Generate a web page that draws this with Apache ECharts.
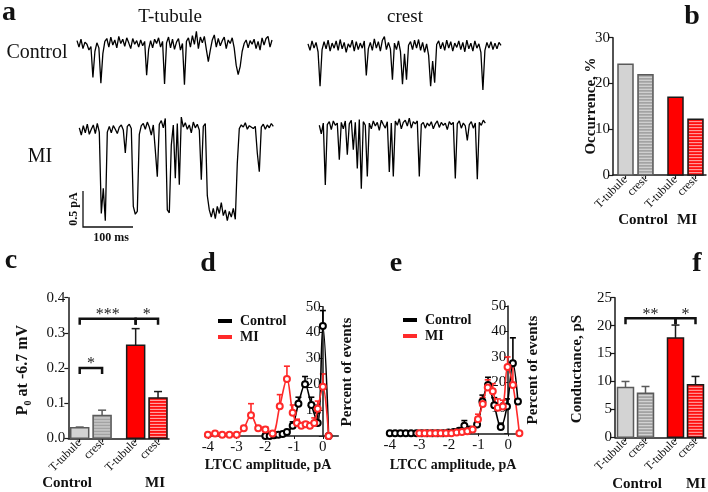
<!DOCTYPE html>
<html><head><meta charset="utf-8">
<script src="https://cdn.jsdelivr.net/npm/echarts@6/dist/echarts.min.js"></script>
<style>html,body{margin:0;padding:0;background:#fff}#c{width:708px;height:492px}</style>
</head><body><div id="c"></div>
<script>
// ---------------- DATA ----------------
// single-channel traces (pA, one value per ~4 ms sample)
const traceCtrlTT = [0.06,-0.03,0.08,-0.05,0.04,0.01,-0.07,-0.02,-0.45,-0.09,0.03,-0.04,-0.53,-0.12,0.05,0.09,-0.03,0.11,0.00,0.07,-0.04,0.12,0.02,0.08,-0.02,0.10,0.03,-0.05,0.09,0.01,0.06,-0.03,0.07,-0.01,0.05,-0.42,-0.06,0.06,-0.04,0.08,0.02,0.10,-0.03,0.05,-0.54,0.03,0.11,-0.04,0.08,-0.06,0.04,0.09,-0.07,0.02,-0.55,0.05,0.10,-0.03,0.13,0.01,0.19,-0.05,0.11,0.03,0.12,-0.06,-0.23,-0.07,0.07,0.14,-0.03,0.09,-0.01,0.06,0.11,-0.05,0.07,0.02,0.10,-0.04,-0.28,-0.41,-0.30,-0.09,0.02,0.07,-0.04,0.06,0.01,0.08,-0.05,0.05,-0.07,0.10,0.00,0.09,0.12,-0.03,0.07];
const traceCtrlCrest = [0.04,-0.05,0.08,-0.02,0.06,-0.07,-0.55,-0.04,0.07,-0.03,0.09,-0.06,0.05,-0.02,0.08,-0.05,0.10,-0.03,0.06,-0.08,0.04,-0.01,0.09,-0.06,0.07,-0.04,0.05,-0.02,0.08,-0.40,-0.03,0.06,-0.05,0.11,-0.02,0.07,-0.06,0.09,0.14,-0.04,0.06,-0.03,-0.46,0.05,-0.04,0.08,-0.07,-0.52,-0.10,-0.46,0.02,0.07,-0.04,0.09,-0.02,0.10,-0.05,0.06,-0.08,0.04,-0.12,-0.55,-0.20,-0.50,0.03,0.08,-0.03,0.06,-0.05,0.09,-0.02,0.07,-0.06,0.05,-0.01,0.08,-0.04,0.06,-0.07,0.09,-0.03,0.05,-0.06,0.08,-0.02,0.04,-0.08,-0.60,-0.05,0.06,-0.02,0.07,-0.04,0.05,-0.03,0.06,0.02];
const traceMITT = [0.04,-0.06,0.07,-0.03,0.09,-0.05,0.02,0.08,-0.04,0.10,-0.02,-1.15,-0.80,-1.25,-0.02,0.06,-0.03,0.07,0.02,-0.04,0.05,0.08,0.01,-0.31,0.06,0.09,0.03,-1.05,-1.16,-1.12,-0.05,0.07,0.10,0.02,0.12,0.05,-0.06,0.08,-0.27,-0.64,0.09,0.14,0.04,0.17,-1.10,-1.14,-0.20,0.08,-0.66,0.10,-0.75,0.19,0.05,0.11,0.02,0.08,-0.03,0.12,0.04,0.09,0.01,-0.68,0.06,0.10,-0.90,-1.10,-1.20,-1.08,-1.22,-1.05,-1.15,-1.00,-1.18,-1.10,-1.25,-1.12,-1.20,-1.08,-1.23,-0.45,0.03,0.08,0.05,0.11,0.02,0.07,0.09,0.03,0.06,-0.31,-0.57,0.05,0.09,0.02,0.08,0.04,0.10,0.06];
const traceMICrest = [0.02,-0.10,0.05,-0.81,0.03,0.07,-0.04,0.08,0.02,0.05,-0.46,0.06,-0.03,0.08,-0.39,0.04,0.09,-0.32,0.06,-0.58,0.10,-0.86,0.07,0.02,-0.69,0.05,-0.03,0.08,0.01,0.06,-0.05,0.09,0.03,-0.02,0.07,-0.63,0.05,-0.69,0.08,0.02,0.11,-0.03,0.06,0.09,0.01,0.12,-0.02,0.07,0.04,0.08,-0.69,0.03,0.06,-0.02,0.05,0.01,0.07,-0.03,0.04,0.08,-0.01,0.06,0.02,0.05,-0.04,0.07,0.03,0.06,-0.72,0.04,0.08,-0.02,0.05,0.01,-0.19,0.03,0.07,-0.02,0.05,-0.73,0.06,0.02,0.09,0.05];

// bar panels
const barCategories = ['T-tubule', 'crest', 'T-tubule', 'crest'];
const barGroups = ['Control', 'MI'];
const occurrence = [24.2, 21.9, 17.0, 12.2];
const openProb = [0.030, 0.065, 0.265, 0.115];
const openProbErr = [0.002, 0.015, 0.047, 0.018];
const conductance = [8.9, 7.9, 17.8, 9.4];
const conductanceErr = [1.1, 1.2, 2.3, 1.5];
// significance: [fromBar, toBar, level, label]
const sigOpenProb = [[0, 1, 0.20, '*'], [0, 2, 0.34, '***'], [2, 3, 0.34, '*']];
const sigConductance = [[0, 2, 21.3, '**'], [2, 3, 21.3, '*']];

// amplitude histograms (pA, % of events, SEM)
const dCtrlX = [-2.0,-1.85,-1.7,-1.55,-1.4,-1.25,-1.05,-0.85,-0.62,-0.4,-0.18,0.0,0.2];
const dCtrlY = [0,0,0.3,0.5,0.8,1.5,4.0,12.5,20.0,12.0,5.0,42.5,0];
const dCtrlE = [0,0,0,0,0,0,1.5,2.5,3.0,3.0,4.0,6.0,0];
const dMIX = [-4.0,-3.75,-3.5,-3.25,-3.0,-2.75,-2.5,-2.25,-2.0,-1.75,-1.5,-1.25,-1.05,-0.9,-0.75,-0.6,-0.45,-0.3,-0.18,0.0,0.2];
const dMIY = [0.5,1.0,0.5,0.5,0.5,3.0,8.0,3.0,2.5,1.0,11.5,22.0,9.0,5.0,4.0,4.5,4.0,5.0,10.5,19.0,0];
const dMIE = [0,0.3,0,0,0,1.0,4.5,1.0,1.0,0.5,4.5,5.0,3.0,1.5,1.0,1.0,1.0,2.0,3.0,5.0,0];
const eCtrlX = [-4.0,-3.82,-3.64,-3.46,-3.28,-3.1,-2.92,-2.74,-2.56,-2.38,-2.2,-2.02,-1.84,-1.66,-1.48,-1.3,-1.05,-0.87,-0.68,-0.47,-0.25,-0.04,0.16,0.33];
const eCtrlY = [0,0,0,0,0,0,0,0,0,0,0,0.3,0.5,1.0,3.0,1.5,3.5,12.5,19.0,11.0,2.5,10.5,27.5,12.5];
const eCtrlE = [0,0,0,0,0,0,0,0,0,0,0,0,0.3,0.5,2.0,0.8,1.5,2.5,3.0,3.0,1.5,3.0,10.0,0];
const eMIX = [-3.0,-2.82,-2.64,-2.46,-2.28,-2.1,-1.92,-1.74,-1.56,-1.38,-1.2,-1.02,-0.86,-0.69,-0.52,-0.35,-0.18,-0.02,0.16,0.38];
const eMIY = [0,0,0,0,0,0,0,0.3,0.5,0.8,1.5,5.5,11.5,18.0,16.5,10.0,10.5,26.0,19.0,0];
const eMIE = [0,0,0,0,0,0,0,0,0.3,0.5,0.8,2.0,2.5,3.0,3.0,3.5,2.5,4.0,8.0,0];
const ampTicks = [-4, -3, -2, -1, 0];

// ---------------- LAYOUT / STYLE ----------------
const FONT = '"Liberation Serif","DejaVu Serif",serif';
const slots = [0, 1, 2.5, 3.5];
const barStyles = [
  {fill: '#d3d3d3', stroke: '#5a5a5a', err: '#5a5a5a'},
  {fill: '#a3a3a3', stroke: '#5a5a5a', stripe: '#dcdcdc', err: '#5a5a5a'},
  {fill: '#ff0000', stroke: '#1a1a1a', err: '#1a1a1a'},
  {fill: '#ff1010', stroke: '#1a1a1a', stripe: '#ffb4b4', err: '#1a1a1a'}
];
const AX = '#1a1a1a';

function traceSeries(arr, gi) {
  return {type: 'line', xAxisIndex: gi, yAxisIndex: gi, showSymbol: false, silent: true,
    lineStyle: {color: '#000', width: 1.3}, data: arr.map((v, i) => [i, v])};
}
function barRender(halfW) {
  return function (params, api) {
    const x = api.value(0), v = api.value(1), e = api.value(2), k = api.value(3);
    const st = barStyles[k];
    const base = api.coord([x, 0]), top = api.coord([x, v]);
    const l = base[0] - halfW, w = halfW * 2, t = top[1], h = base[1] - top[1];
    const ch = [];
    if (e > 0) {
      const et = api.coord([x, v + e]);
      ch.push({type: 'line', shape: {x1: base[0], y1: t, x2: base[0], y2: et[1]}, style: {stroke: st.err, lineWidth: 1.5}});
      ch.push({type: 'line', shape: {x1: base[0] - 4, y1: et[1], x2: base[0] + 4, y2: et[1]}, style: {stroke: st.err, lineWidth: 1.5}});
    }
    ch.push({type: 'rect', shape: {x: l, y: t, width: w, height: h}, style: {fill: st.fill}});
    if (st.stripe) {
      for (let yy = t + 2.5; yy < base[1] - 1; yy += 3) {
        ch.push({type: 'line', shape: {x1: l + 1, y1: yy, x2: l + w - 1, y2: yy}, style: {stroke: st.stripe, lineWidth: 1}});
      }
    }
    ch.push({type: 'rect', shape: {x: l, y: t, width: w, height: h}, style: {fill: 'none', stroke: st.stroke, lineWidth: 1.5}});
    return {type: 'group', children: ch};
  };
}
function barSeries(gi, vals, errs, halfW) {
  return {type: 'custom', xAxisIndex: gi, yAxisIndex: gi, silent: true, renderItem: barRender(halfW),
    data: vals.map((v, i) => [slots[i], v, errs ? errs[i] : 0, i])};
}
function sigSeries(gi, sig) {
  return {type: 'custom', xAxisIndex: gi, yAxisIndex: gi, silent: true, z: 5,
    renderItem: function (params, api) {
      const s = sig[params.dataIndex];
      const a = api.coord([slots[s[0]], s[2]]), b = api.coord([slots[s[1]], s[2]]);
      return {type: 'group', children: [
        {type: 'polyline', shape: {points: [[a[0], a[1] + 6], [a[0], a[1]], [b[0], b[1]], [b[0], b[1] + 6]]},
          style: {stroke: '#111', lineWidth: 2.5, fill: null}},
        {type: 'text', x: (a[0] + b[0]) / 2, y: a[1] + 4,
          style: {text: s[3], font: '16px ' + FONT, textAlign: 'center', textVerticalAlign: 'bottom', fill: '#222'}}
      ]};
    },
    data: sig.map(s => [slots[s[0]], s[2]])};
}
function errSeries(gi, xs, ys, es, color) {
  return {type: 'custom', xAxisIndex: gi, yAxisIndex: gi, silent: true, z: 2,
    renderItem: function (params, api) {
      const x = api.value(0), y = api.value(1), e = api.value(2);
      if (!(e > 0)) return null;
      const p = api.coord([x, y]), q = api.coord([x, y + e]);
      return {type: 'group', children: [
        {type: 'line', shape: {x1: p[0], y1: p[1], x2: q[0], y2: q[1]}, style: {stroke: color, lineWidth: 1.6}},
        {type: 'line', shape: {x1: q[0] - 3, y1: q[1], x2: q[0] + 3, y2: q[1]}, style: {stroke: color, lineWidth: 1.6}}
      ]};
    },
    data: xs.map((x, i) => [x, ys[i], es[i]])};
}
function histSeries(gi, name, xs, ys, color) {
  return {type: 'line', name, xAxisIndex: gi, yAxisIndex: gi, smooth: 0.35, silent: true, z: 3,
    symbol: 'emptyCircle', symbolSize: 6, color,
    lineStyle: {color, width: 1.6}, itemStyle: {color, borderColor: color, borderWidth: 1.3},
    data: xs.map((x, i) => [x, ys[i]])};
}
function hiddenAxes(gi, n, isX) {
  return isX ? {type: 'value', gridIndex: gi, min: 0, max: n - 1, show: false}
             : {type: 'value', gridIndex: gi, min: -1.3, max: 0.3, show: false};
}
function barX(gi, min, max) {
  return {type: 'value', gridIndex: gi, min, max, splitLine: {show: false},
    axisLine: {show: true, onZero: true, lineStyle: {color: AX, width: 1.5}},
    axisTick: {show: true, customValues: slots, length: 4, lineStyle: {color: AX, width: 1.2}},
    axisLabel: {show: true, customValues: slots, rotate: 45, margin: 3, fontFamily: FONT, fontSize: 12, color: '#111',
      formatter: v => { const i = slots.indexOf(v); return i >= 0 ? barCategories[i] : ''; }}};
}
function barY(gi, max, interval, fmt) {
  return {type: 'value', gridIndex: gi, min: 0, max, interval, splitLine: {show: false},
    axisLine: {show: true, onZero: false, lineStyle: {color: AX, width: 1.5}},
    axisTick: {show: true, length: 4, lineStyle: {color: AX, width: 1.2}},
    axisLabel: {fontFamily: FONT, fontSize: 15, color: '#111', margin: 3, formatter: fmt}};
}
function ampX(gi, min, max) {
  return {type: 'value', gridIndex: gi, min, max, splitLine: {show: false},
    axisLine: {show: true, onZero: true, lineStyle: {color: AX, width: 1.5}},
    axisTick: {show: true, customValues: ampTicks, length: 3, lineStyle: {color: AX}},
    axisLabel: {customValues: ampTicks, fontFamily: FONT, fontSize: 15, color: '#111', margin: 4}};
}
// y axis drawn at x = 0 pA: shifted right from the grid's left edge by the x-axis scale
function pctY(gi, xmin, xmax) {
  const g = grids[gi];
  const shift = g.width * (0 - xmin) / (xmax - xmin);
  return {type: 'value', gridIndex: gi, min: 0, max: 50, interval: 10, splitLine: {show: false},
    offset: -shift,
    axisLine: {show: true, onZero: false, lineStyle: {color: AX, width: 1.5}},
    axisTick: {show: true, length: 4, lineStyle: {color: AX}},
    axisLabel: {fontFamily: FONT, fontSize: 15, color: '#111', margin: 2, formatter: v => v === 0 ? '' : String(v)}};
}
function txt(x, y, text, font, extra) {
  return Object.assign({type: 'text', x, y, silent: true,
    style: {text, font, fill: '#111', textAlign: 'center', textVerticalAlign: 'middle'}}, extra || {});
}
function vtxt(x, y, text, font) {
  return {type: 'text', x, y, rotation: Math.PI / 2, silent: true,
    style: {text, font, fill: '#111', textAlign: 'center', textVerticalAlign: 'middle'}};
}

const grids = [
  {left: 77, top: 23.4, width: 195, height: 115.2},
  {left: 308, top: 25.1, width: 193, height: 115.2},
  {left: 79.3, top: 109.1, width: 194, height: 115.2},
  {left: 319.3, top: 105.1, width: 166, height: 115.2},
  {left: 613, top: 37.7, width: 93, height: 137.3},
  {left: 68.3, top: 297.7, width: 100.7, height: 140.6},
  {left: 205, top: 306.7, width: 133.3, height: 129.3},
  {left: 388.3, top: 306, width: 131.7, height: 127.3},
  {left: 615, top: 297.7, width: 91, height: 139.6}
];
const traces = [traceCtrlTT, traceCtrlCrest, traceMITT, traceMICrest];

const xAxes = traces.map((t, i) => hiddenAxes(i, t.length, true)).concat([
  barX(4, -0.625, 4.025), barX(5, -0.51, 3.99), ampX(6, -4.1, 0.537), ampX(7, -4.05, 0.4), barX(8, -0.525, 4.025)
]);
const yAxes = traces.map((t, i) => hiddenAxes(i, t.length, false)).concat([
  barY(4, 30, 10), barY(5, 0.4, 0.1, v => v.toFixed(1)), pctY(6, -4.1, 0.537), pctY(7, -4.05, 0.4), barY(8, 25, 5)
]);

const series = traces.map((t, i) => traceSeries(t, i)).concat([
  barSeries(4, occurrence, null, 7.5),
  barSeries(5, openProb, openProbErr, 9),
  sigSeries(5, sigOpenProb),
  errSeries(6, dCtrlX, dCtrlY, dCtrlE, '#000'),
  errSeries(6, dMIX, dMIY, dMIE, '#ff2a2a'),
  histSeries(6, 'Control', dCtrlX, dCtrlY, '#000'),
  histSeries(6, 'MI', dMIX, dMIY, '#ff2a2a'),
  errSeries(7, eCtrlX, eCtrlY, eCtrlE, '#000'),
  errSeries(7, eMIX, eMIY, eMIE, '#ff2a2a'),
  histSeries(7, 'Control', eCtrlX, eCtrlY, '#000'),
  histSeries(7, 'MI', eMIX, eMIY, '#ff2a2a'),
  barSeries(8, conductance, conductanceErr, 8),
  sigSeries(8, sigConductance)
]);

const legendBase = {data: [{name: 'Control', icon: 'rect'}, {name: 'MI', icon: 'rect'}], orient: 'vertical',
  itemWidth: 12, itemHeight: 2, itemGap: 2, selectedMode: false,
  textStyle: {fontFamily: FONT, fontSize: 14, fontWeight: 'bold', color: '#111', lineHeight: 14, padding: [0, 0, 0, 4]}};

const BOLD = n => 'bold ' + n + 'px ' + FONT;
const REG = n => n + 'px ' + FONT;
const graphic = [
  txt(9, 13, 'a', BOLD(28)),
  txt(170, 17, 'T-tubule', REG(19)),
  txt(405, 17, 'crest', REG(19)),
  txt(37, 53, barGroups[0], REG(20)),
  txt(40, 157, barGroups[1], REG(20)),
  {type: 'polyline', silent: true, shape: {points: [[83, 191], [83, 227], [133, 227]]}, style: {stroke: '#111', lineWidth: 1.3, fill: null}},
  vtxt(74, 209, '0.5 pA', BOLD(12)),
  txt(111, 238, '100 ms', BOLD(12)),
  txt(692, 17, 'b', BOLD(28)),
  vtxt(591, 106, 'Occurrence, %', BOLD(15)),
  txt(643, 220, barGroups[0], BOLD(15)),
  txt(687, 220, barGroups[1], BOLD(15)),
  txt(11, 261, 'c', BOLD(28)),
  {type: 'text', x: 23, y: 370, rotation: Math.PI / 2, silent: true,
    style: {text: 'P{s|0} at -6.7 mV', font: BOLD(16), fill: '#111', textAlign: 'center', textVerticalAlign: 'middle',
      rich: {s: {fontSize: 10, fontWeight: 'bold', fontFamily: FONT, verticalAlign: 'bottom', lineHeight: 20, padding: [6, 0, 0, 0]}}}},
  txt(67, 483, barGroups[0], BOLD(15)),
  txt(155, 483, barGroups[1], BOLD(15)),
  txt(208, 264, 'd', BOLD(28)),
  vtxt(347, 372, 'Percent of events', BOLD(15)),
  txt(268, 465, 'LTCC amplitude, pA', BOLD(14)),
  txt(396, 264, 'e', BOLD(28)),
  vtxt(533, 370, 'Percent of events', BOLD(15)),
  txt(453, 465, 'LTCC amplitude, pA', BOLD(14)),
  txt(697, 264, 'f', BOLD(28)),
  vtxt(577, 369, 'Conductance, pS', BOLD(15)),
  txt(637, 484, barGroups[0], BOLD(15)),
  txt(696, 484, barGroups[1], BOLD(15))
];

const chart = echarts.init(document.getElementById('c'), null, {renderer: 'canvas'});
chart.setOption({
  animation: false,
  backgroundColor: '#fff',
  textStyle: {fontFamily: FONT},
  grid: grids,
  xAxis: xAxes,
  yAxis: yAxes,
  legend: [Object.assign({left: 213, top: 309}, legendBase), Object.assign({left: 398, top: 308}, legendBase)],
  series,
  graphic
});
</script>
</body></html>
